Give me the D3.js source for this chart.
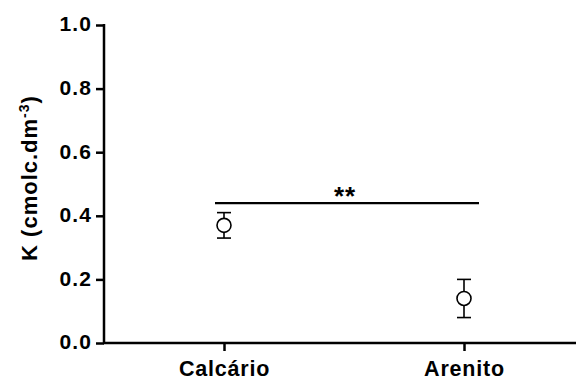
<!DOCTYPE html>
<html><head><meta charset="utf-8">
<script src="https://cdn.jsdelivr.net/npm/d3@7"></script>
<style>body{margin:0;background:#fff}svg{display:block}</style>
</head><body>
<svg id="c" width="576" height="380"></svg>
<script>
const categories = ["Calcário", "Arenito"];
const means = [0.37, 0.14];
const errLow = [0.33, 0.08];
const errHigh = [0.41, 0.20];
const yTicks = [0.0, 0.2, 0.4, 0.6, 0.8, 1.0];
const sigLevel = 0.44;
const sigLabel = "**";

const svg = d3.select("#c");
const y = d3.scaleLinear().domain([0, 1]).range([343, 25]);
const x = d3.scalePoint().domain(categories).range([224, 464]);
const font = "Liberation Sans, Arial, sans-serif";

// axes
const yAxis = svg.append("g").attr("transform", "translate(104,0)")
  .call(d3.axisLeft(y).tickValues(yTicks).tickFormat(d3.format(".1f")).tickSize(8).tickPadding(4));
yAxis.select(".domain").attr("d", "M0,344V24").attr("stroke", "#000").attr("stroke-width", 2.5);
yAxis.selectAll(".tick line").attr("stroke-width", 2.5);
yAxis.selectAll(".tick text").attr("font-family", font).attr("font-size", 21).attr("font-weight", "bold")
  .attr("letter-spacing", 1.1).attr("fill", "#000").attr("dy", "0.28em");

const xAxis = svg.append("g").attr("transform", "translate(0,343)")
  .call(d3.axisBottom(x).tickSize(8).tickPadding(10));
xAxis.select(".domain").attr("d", "M103,0H576").attr("stroke", "#000").attr("stroke-width", 2.5);
xAxis.selectAll(".tick line").attr("stroke-width", 2.5);
xAxis.selectAll(".tick text").attr("font-family", font).attr("font-size", 21.5).attr("font-weight", "bold")
  .attr("letter-spacing", 0.8).attr("fill", "#000");

// y title
const t = svg.append("text").attr("transform", "translate(37,178) rotate(-90)")
  .attr("text-anchor", "middle").attr("font-family", font).attr("font-size", 22).attr("font-weight", "bold")
  .attr("letter-spacing", 1).attr("fill", "#000");
t.append("tspan").text("K (cmolc.dm");
t.append("tspan").attr("dy", -8).attr("font-size", 14).text("-3");
t.append("tspan").attr("dy", 8).text(")");

// error bars & points
const g = svg.append("g").attr("stroke", "#000").attr("stroke-width", 1.6).attr("fill", "none");
categories.forEach((c, i) => {
  const cx = x(c);
  g.append("line").attr("x1", cx).attr("x2", cx).attr("y1", y(errHigh[i])).attr("y2", y(errLow[i]));
  g.append("line").attr("x1", cx - 7).attr("x2", cx + 7).attr("y1", y(errHigh[i])).attr("y2", y(errHigh[i]));
  g.append("line").attr("x1", cx - 7).attr("x2", cx + 7).attr("y1", y(errLow[i])).attr("y2", y(errLow[i]));
  g.append("circle").attr("cx", cx).attr("cy", y(means[i])).attr("r", 7).attr("fill", "#fff");
});

// significance line
svg.append("line").attr("x1", x(categories[0]) - 9).attr("x2", x(categories[1]) + 15)
  .attr("y1", y(sigLevel)).attr("y2", y(sigLevel)).attr("stroke", "#000").attr("stroke-width", 2.2);
svg.append("text").attr("x", (x(categories[0]) + x(categories[1])) / 2 + 1).attr("y", y(sigLevel) + 2)
  .attr("text-anchor", "middle").attr("font-family", font).attr("font-size", 26).attr("font-weight", "bold")
  .attr("letter-spacing", 1).text(sigLabel);
</script>
</body></html>
